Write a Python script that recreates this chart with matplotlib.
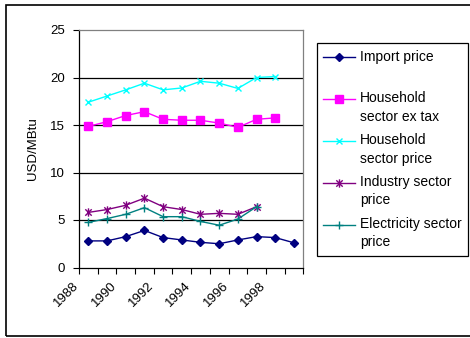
import numpy as np
import matplotlib
matplotlib.use("Agg")
import matplotlib.pyplot as plt
import matplotlib.transforms as mtransforms
from matplotlib.patches import Rectangle
from matplotlib.path import Path

plt.rcParams['font.family'] = ['Liberation Sans', 'DejaVu Sans']

years = list(range(1988, 2000))
import_price = [2.8, 2.8, 3.25, 3.9, 3.15, 2.9, 2.65, 2.5, 2.9, 3.25, 3.15, 2.6]
household_ex_tax = [14.85, 15.35, 16.0, 16.4, 15.6, 15.5, 15.5, 15.2, 14.75, 15.6, 15.75]
household_price = [17.4, 18.05, 18.7, 19.4, 18.7, 18.9, 19.6, 19.4, 18.85, 20.0, 20.1]
industry_price = [5.8, 6.1, 6.55, 7.3, 6.4, 6.1, 5.6, 5.7, 5.6, 6.4]
electricity_price = [4.75, 5.15, 5.6, 6.3, 5.35, 5.35, 4.85, 4.45, 5.1, 6.4]

series_labels = ['Import price\n ', 'Household\nsector ex tax', 'Household\nsector price',
                 'Industry sector\nprice', 'Electricity sector\nprice']
y_ticks = [0, 5, 10, 15, 20, 25]

# asterisk marker: an x with a vertical bar through it
star = Path([(-1, -1), (1, 1), (-1, 1), (1, -1), (0, -1.3), (0, 1.3)],
            [Path.MOVETO, Path.LINETO] * 3)

fig = plt.figure(figsize=(4.7, 3.38), dpi=100)
ax = fig.add_axes([79 / 470, 1 - 267.5 / 338, 224.3 / 470, 237.5 / 338])

x = np.arange(len(years))
ax.plot(x[:len(import_price)], import_price, color='#000080', marker='D', ms=4, lw=1)
ax.plot(x[:len(household_ex_tax)], household_ex_tax, color='#FF00FF', marker='s', ms=5.5, lw=1)
ax.plot(x[:len(household_price)], household_price, color='#00FFFF', marker='x', ms=5, mew=1, lw=1)
ax.plot(x[:len(industry_price)], industry_price, color='#800080', marker=star, ms=6, mew=1, lw=1)
ax.plot(x[:len(electricity_price)], electricity_price, color='#008080', marker='+', ms=6, mew=1, lw=1)

for v in y_ticks[1:-1]:
    ax.axhline(v, color='black', lw=0.9, zorder=0)

ax.set_xlim(-0.5, len(years) - 0.5)
ax.set_ylim(y_ticks[0], y_ticks[-1])
ax.set_yticks(y_ticks)
ax.tick_params(axis='y', direction='out', length=4, width=0.8, pad=6, labelsize=9.5)

# tick marks between categories, year labels every other category
ax.set_xticks(np.arange(-0.5, len(years)), labels=[])
ax.tick_params(axis='x', which='major', direction='out', length=4, width=0.8)
ax.set_xticks(x[::2], labels=[str(y) for y in years[::2]], minor=True)
ax.tick_params(axis='x', which='minor', length=0, pad=9, labelsize=9.5)
shift = mtransforms.ScaledTranslation(-0.07, 0, fig.dpi_scale_trans)
for lbl in ax.get_xticklabels(minor=True):
    lbl.set_rotation(45)
    lbl.set_ha('right')
    lbl.set_transform(lbl.get_transform() + shift)

ax.set_ylabel('USD/MBtu', fontsize=9.5, labelpad=8)

for side in ['top', 'right']:
    ax.spines[side].set_color('#808080')
for side in ['left', 'bottom']:
    ax.spines[side].set_color('black')
for sp in ax.spines.values():
    sp.set_linewidth(0.9)

leg = ax.legend(ax.get_lines()[:5], series_labels, loc='upper left',
                bbox_to_anchor=(316.7 / 470, 0.2456, 151 / 470, 0.6264),
                bbox_transform=fig.transFigure, mode='expand',
                fontsize=10, frameon=True, fancybox=False, framealpha=1,
                edgecolor='black', handlelength=2.3, handletextpad=0.35,
                borderpad=0.45, labelspacing=0.68, borderaxespad=0)
leg.get_frame().set_linewidth(0.9)
for t in leg.get_texts():
    t.set_linespacing(1.4)
# put each key beside the first line of its label
for h in leg.legend_handles:
    h.set_ydata(np.asarray(h.get_ydata()) + 6.6)

fig.add_artist(Rectangle((6 / 470, 2 / 338), 1.0, 331 / 338, transform=fig.transFigure,
                         fill=False, ec='black', lw=1.2))

fig.savefig('out.png', dpi=100)
